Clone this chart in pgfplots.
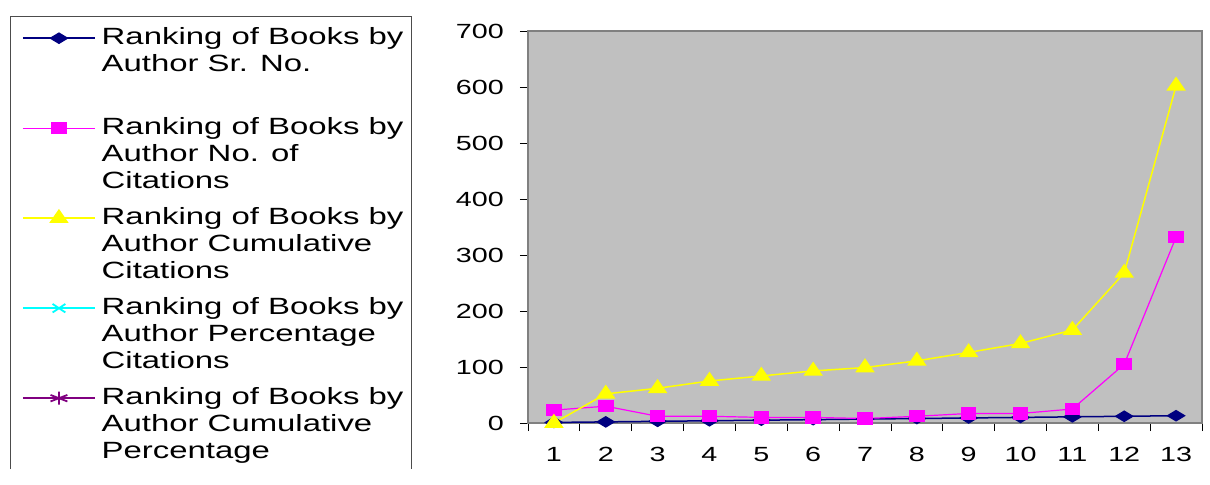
\documentclass[border=0pt]{standalone}
\usepackage{fontspec}
\setmainfont{Liberation Sans}[FakeStretch=1.4]
\usepackage{pgfplots}
\pgfplotsset{compat=1.18}
\definecolor{plotbg}{RGB}{192,192,192}
\definecolor{axgray}{RGB}{128,128,128}
\definecolor{navyc}{RGB}{0,0,128}
\definecolor{magc}{RGB}{255,0,255}
\definecolor{yelc}{RGB}{255,255,0}
\definecolor{cyac}{RGB}{0,255,255}
\definecolor{purc}{RGB}{128,0,128}
\begin{document}
\begin{tikzpicture}
\useasboundingbox (-528bp,-62bp) rectangle (682bp,423bp);
\begin{axis}[
  at={(0,0)}, anchor=south west,
  scale only axis, width=674bp, height=392bp,
  xmin=0.5, xmax=13.5, ymin=0, ymax=700,
  axis background/.style={fill=plotbg},
  axis line style={draw=axgray, line width=1.3bp},
  xtick={0.5,1.5,...,13.5}, xticklabels={},
  extra x ticks={1,2,3,4,5,6,7,8,9,10,11,12,13},
  extra x tick style={tick style={draw=none}},
  ytick={0,100,...,700},
  xtick pos=bottom, ytick pos=left,
  tick align=outside, major tick length=8bp,
  tick style={draw=black, line width=0.8bp},
  tick label style={font=\fontsize{20.5bp}{24bp}\selectfont, inner sep=0pt},
  /pgf/number format/assume math mode=true,
  xticklabel shift=16bp, yticklabel shift=16bp,
  legend style={
    at={(-0.7507,1.0138)}, anchor=north west,
    draw=none, fill=none, inner xsep=0pt, inner ysep=0pt,
    row sep=9bp, column sep=6bp,
    cells={anchor=base west},
    nodes={inner sep=0pt, text depth=},
    font=\fontsize{23.5bp}{27bp}\selectfont,
  },
  legend image code/.code={\draw[#1, mark repeat=2, mark phase=2] plot coordinates {(-3bp,6.5bp)(33bp,6.5bp)(69bp,6.5bp)};},
]
\addplot[navyc, line width=1.5bp, mark=diamond*, mark size=5bp, mark options={xscale=2.2, fill=navyc, draw=navyc}]
  coordinates {(1,1)(2,2)(3,3)(4,4)(5,5)(6,6)(7,7)(8,8)(9,9)(10,10)(11,11)(12,12)(13,13)};
\addlegendentry{\parbox[t]{310bp}{\strut Ranking of Books by\\Author Sr. No.\\\strut}}
\addplot[magc, line width=1.2bp, mark=square*, mark size=5.5bp, mark options={xscale=1.3, fill=magc, draw=magc}]
  coordinates {(1,23)(2,30)(3,12)(4,12)(5,10)(6,10)(7,8)(8,12)(9,17)(10,17)(11,25)(12,105)(13,332)};
\addlegendentry{\parbox[t]{310bp}{\strut Ranking of Books by\\Author No. of\\Citations\strut}}
\addplot[yelc, line width=1.5bp, mark=triangle*, mark size=8bp, mark options={xscale=1.2, fill=yelc, draw=yelc}]
  coordinates {(1,0)(2,52)(3,62)(4,75)(5,84)(6,93)(7,99)(8,111)(9,126)(10,142)(11,166)(12,268)(13,602)};
\addlegendentry{\parbox[t]{310bp}{\strut Ranking of Books by\\Author Cumulative\\Citations\strut}}
\addlegendimage{cyac, line width=1.5bp, mark=x, mark size=6bp, mark options={xscale=1.5, line width=1.8bp}}
\addlegendentry{\parbox[t]{310bp}{\strut Ranking of Books by\\Author Percentage\\Citations\strut}}
\addlegendimage{purc, line width=1.5bp, mark=asterisk, mark size=6.5bp, mark options={xscale=1.5, line width=1.8bp}}
\addlegendentry{\parbox[t]{310bp}{\strut Ranking of Books by\\Author Cumulative\\Percentage\strut}}
\end{axis}
\draw[gray!60!black, line width=1bp] (-517bp,-46bp) -- (-517bp,406bp) -- (-116bp,406bp) -- (-116bp,-46bp);
\end{tikzpicture}
\end{document}
